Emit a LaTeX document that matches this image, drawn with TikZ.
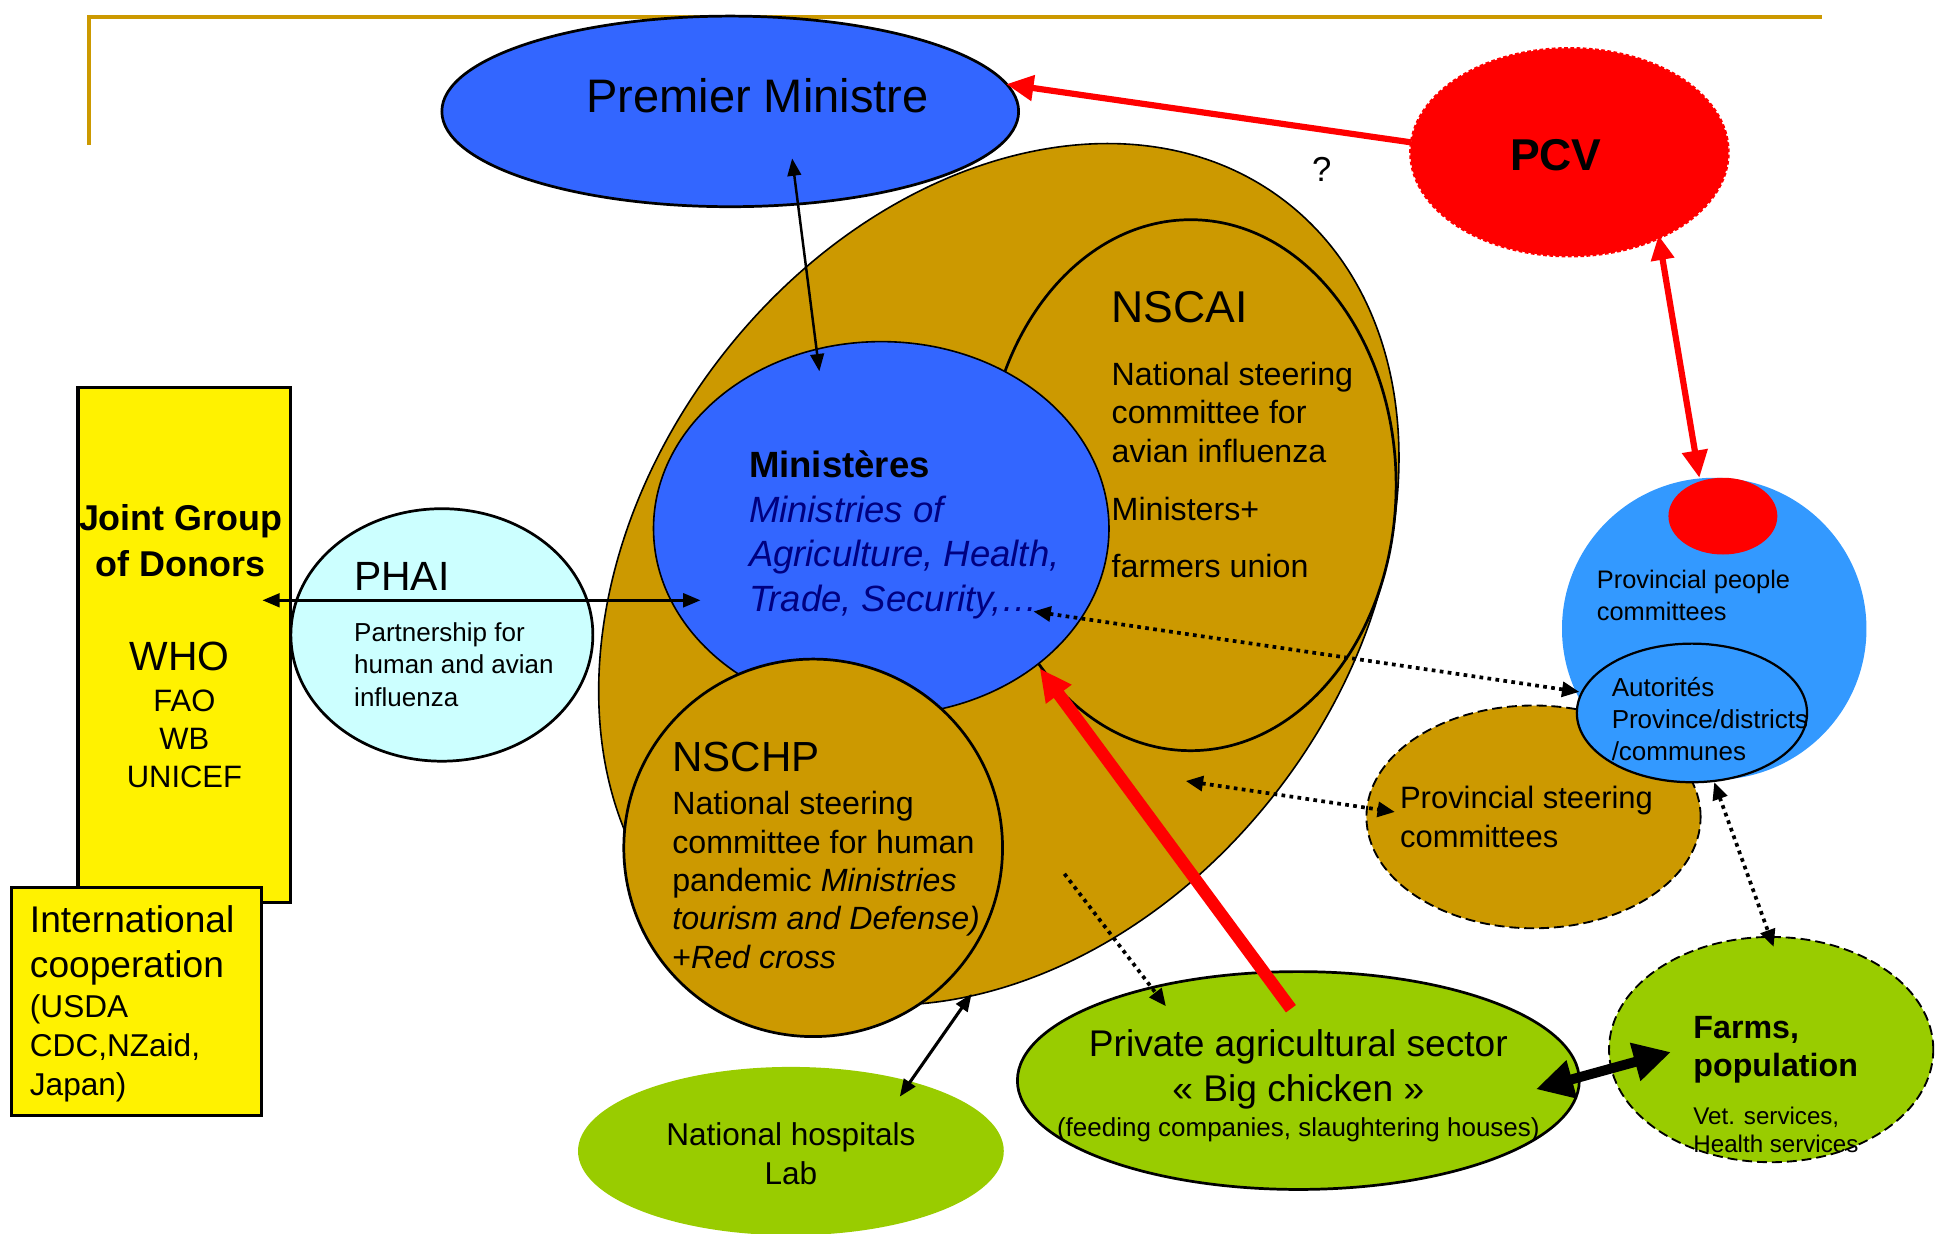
\documentclass[tikz,border=0pt]{standalone}
\usepackage{fontspec}
\setmainfont{Liberation Sans}
\usetikzlibrary{shapes.geometric,arrows.meta}

\definecolor{pmblue}{HTML}{3366FF}
\definecolor{gold}{HTML}{CC9900}
\definecolor{phaicyan}{HTML}{CCFFFF}
\definecolor{provblue}{HTML}{3399FF}
\definecolor{leaf}{HTML}{99CC00}
\definecolor{navytext}{HTML}{000080}

\newcommand{\fsz}[2]{\fontsize{#1}{#2}\selectfont}

\tikzset{
  blob/.style={ellipse, inner sep=0pt, draw=black, line width=2.2pt},
  flat/.style={ellipse, inner sep=0pt},
  dashline/.style={dash pattern=on 8pt off 4pt, line width=1.5pt},
  box/.style={rectangle, inner sep=0pt, draw=black, line width=2.5pt, fill=yellow},
  lbl/.style={inner sep=0pt, align=left, anchor=west, xshift=-2pt},
  clbl/.style={inner sep=0pt, align=center},
  thin2/.style={line width=2pt, arrows={Triangle[length=14pt,width=11pt]-Triangle[length=14pt,width=11pt]}},
  dotline/.style={line width=3pt, dash pattern=on 3pt off 3.5pt},
  dots2/.style={dotline, arrows={Triangle[length=14pt,width=12pt]-Triangle[length=14pt,width=12pt]}},
  redline/.style={red, line width=5pt},
}

\begin{document}
\begin{tikzpicture}[x=1pt,y=-1pt]
  \useasboundingbox (0,0) rectangle (1565,997);

  % frame line
  \draw[gold, line width=3pt] (72,117) -- (72,14) -- (1472,14);

  % national level
  \node[blob, line width=1.3pt, fill=gold, rotate=52.6, minimum width=760pt, minimum height=570pt] (natl) at (807,464) {};
  \node[blob, fill=gold, minimum width=332pt, minimum height=429pt] (nscai) at (962,392) {};
  \node[blob, line width=1.3pt, fill=pmblue, minimum width=368pt, minimum height=302pt] (mini) at (712,427) {};
  \node[blob, fill=gold, minimum width=306pt, minimum height=305pt] (nschp) at (657,685) {};
  \node[blob, fill=pmblue, minimum width=466pt, minimum height=154pt] (pm) at (590,90) {};
  \node[flat, draw=red, dash pattern=on 3pt off 2pt, line width=2pt, fill=red, minimum width=257pt, minimum height=168pt] (pcv) at (1268,123) {};

  % donors
  \node[box, minimum width=172pt, minimum height=416pt] (jg) at (149,521) {};
  \node[box, minimum width=202pt, minimum height=184pt] (ic) at (110,809) {};
  \node[blob, fill=phaicyan, minimum width=244pt, minimum height=204pt] (phai) at (357,513) {};

  % provinces
  \node[flat, fill=provblue, minimum width=246pt, minimum height=244pt] (ppc) at (1385,508) {};
  \node[flat, fill=red, minimum width=88pt, minimum height=62pt] (pcvdot) at (1392,417) {};
  \node[blob, dashline, fill=gold, minimum width=270pt, minimum height=180pt] (psc) at (1239,660) {};
  \node[blob, line width=1.8pt, fill=provblue, minimum width=186pt, minimum height=112pt] (aut) at (1367,576) {};

  % field
  \node[blob, fill=leaf, minimum width=454pt, minimum height=176pt] (pas) at (1049,873) {};
  \node[flat, fill=leaf, minimum width=344pt, minimum height=136pt] (nh) at (639,930) {};
  \node[blob, dashline, fill=leaf, minimum width=262pt, minimum height=182pt] (farms) at (1431,848) {};

  % connector ends
  \coordinate (pcv-w) at (1140,115);   \coordinate (pm-e) at (813,68);
  \coordinate (pcv-s) at (1340,190);   \coordinate (ppc-n) at (1373,386);
  \coordinate (pm-s) at (640,128);     \coordinate (mini-n) at (662,300);
  \coordinate (jg-e) at (212,485);     \coordinate (mini-w) at (566,485);
  \coordinate (pas-n) at (1043,815);   \coordinate (mini-se) at (840,540);
  \coordinate (mini-e) at (835,494);   \coordinate (aut-w) at (1276,559);
  \coordinate (natl-in) at (958,631);  \coordinate (psc-w) at (1127,656);
  \coordinate (aut-s) at (1385,632);   \coordinate (farms-n) at (1433,765);
  \coordinate (natl-s) at (860,706);   \coordinate (pas-nw) at (942,813);
  \coordinate (natl-b) at (785,803);   \coordinate (nh-n) at (727,886);
  \coordinate (pas-e) at (1241,880);   \coordinate (farms-w) at (1350,850);

  \draw[redline, -{Triangle[length=22pt,width=20pt]}] (pcv-w) -- (pm-e);
  \draw[redline, {Triangle[length=20pt,width=18pt]}-{Triangle[length=22pt,width=20pt]}] (pcv-s) -- (ppc-n);
  \draw[thin2] (pm-s) -- (mini-n);
  \draw[thin2, line width=2.5pt] (jg-e) -- (mini-w);
  \draw[red, line width=10pt, -{Triangle[length=26pt,width=24pt]}] (pas-n) -- (mini-se);
  \draw[dots2] (mini-e) -- (aut-w);
  \draw[dots2] (natl-in) -- (psc-w);
  \draw[dots2] (aut-s) -- (farms-n);
  \draw[dotline, -{Triangle[length=14pt,width=12pt]}] (natl-s) -- (pas-nw);
  \draw[thin2, line width=2.5pt] (natl-b) -- (nh-n);
  \draw[line width=8pt, {Triangle[length=30pt,width=30pt]}-{Triangle[length=30pt,width=30pt]}] (pas-e) -- (farms-w);

  % texts
  \node[clbl, font=\fsz{38}{44}] (pm-t) at (612,77) {Premier Ministre};
  \node[clbl, font=\fsz{36}{40}\bfseries] (pcv-t) at (1257,125) {PCV};
  \node[clbl, font=\fsz{28}{32}] (q-t) at (1068,137) {?};

  \node[lbl, font=\fsz{36}{40}] (nscai-t) at (900,248) {NSCAI};
  \node[lbl, font=\fsz{26}{31}] (nscai-d) at (900,333) {National steering\\committee for\\avian influenza};
  \node[lbl, font=\fsz{26}{31}] (nscai-m) at (900,411) {Ministers+};
  \node[lbl, font=\fsz{26}{31}] (nscai-f) at (900,457) {farmers union};

  \node[lbl, font=\fsz{29.5}{36}] (mini-t) at (607,432) {{\bfseries Ministères}\\
    {\itshape\color{navytext}Ministries of}\\
    {\itshape\color{navytext}Agriculture, Health,}\\
    {\itshape\color{navytext}Trade, Security,…}};

  \node[lbl, font=\fsz{34}{40}] (nschp-t) at (545,612) {NSCHP};
  \node[lbl, font=\fsz{26}{31}] (nschp-d) at (545,711) {National steering\\committee for human\\
    pandemic {\itshape Ministries}\\{\itshape tourism and Defense)}\\+{\itshape Red cross}};

  \node[lbl, font=\fsz{33}{38}] (phai-t) at (288,466) {PHAI};
  \node[lbl, font=\fsz{21}{26}] (phai-d) at (288,537) {Partnership for\\human and avian\\influenza};

  \node[clbl, font=\fsz{29}{37}\bfseries] (jg-t) at (146,437) {Joint Group\\of Donors};
  \node[clbl, font=\fsz{33}{38}] (who-t) at (145,530) {WHO};
  \node[clbl, font=\fsz{25}{30.5}] (org-t) at (149,597) {FAO\\WB\\UNICEF};

  \node[lbl, font=\fsz{30}{36}] (ic-t) at (26,764) {International\\cooperation};
  \node[lbl, font=\fsz{25.5}{31.5}] (ic-d) at (26,847) {(USDA\\CDC,NZaid,\\Japan)};

  \node[lbl, font=\fsz{25}{31}] (psc-t) at (1133,660) {Provincial steering\\committees};
  \node[lbl, font=\fsz{20.5}{26}] (ppc-t) at (1292,481) {Provincial people\\committees};
  \node[lbl, font=\fsz{21}{26}] (aut-t) at (1304,581) {Autorités\\Province/districts\\/communes};

  \node[clbl, font=\fsz{30}{36}] (pas-t) at (1049,864) {Private agricultural sector\\« Big chicken »};
  \node[clbl, font=\fsz{21}{25}] (pas-d) at (1049,913) {(feeding companies, slaughtering houses)};
  \node[clbl, font=\fsz{25.5}{31}] (nh-t) at (639,932) {National hospitals\\Lab};
  \node[lbl, font=\fsz{26}{31}\bfseries] (farms-t) at (1370,848) {Farms,\\population};
  \node[lbl, font=\fsz{19.5}{23}] (farms-d) at (1370,913) {Vet. services,\\Health services};
\end{tikzpicture}
\end{document}
